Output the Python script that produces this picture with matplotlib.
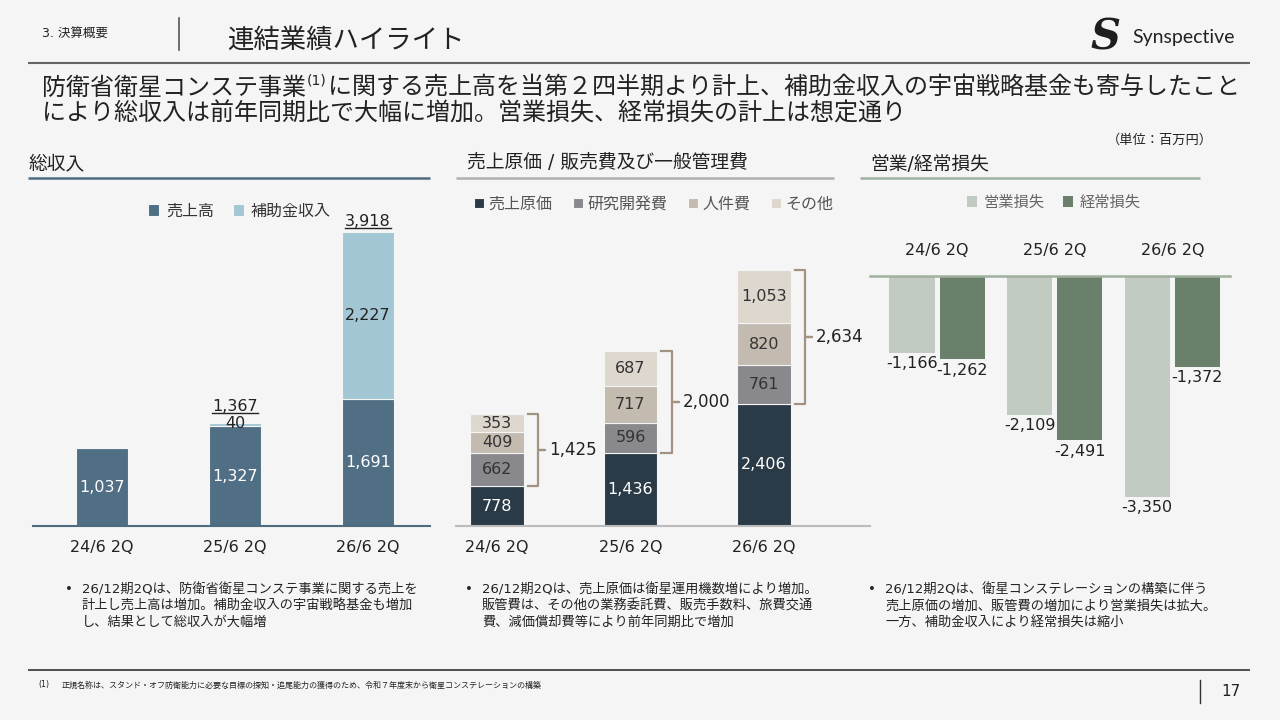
import numpy as np
import matplotlib.pyplot as plt
from matplotlib.patches import Rectangle

plt.rcParams['font.family'] = ['DejaVu Sans', 'Noto Sans CJK JP']

# データ (単位: 百万円)
periods = ['24/6 2Q', '25/6 2Q', '26/6 2Q']
sales = np.array([1037, 1327, 1691])
subsidy = np.array([0, 40, 2227])
total_revenue = [1037, 1367, 3918]

cost_of_sales = np.array([778, 1436, 2406])
rnd_cost = np.array([662, 596, 761])
personnel_cost = np.array([409, 717, 820])
other_cost = np.array([353, 687, 1053])
sga_total = [1425, 2000, 2634]

op_loss = np.array([-1166, -2109, -3350])
ord_loss = np.array([-1262, -2491, -1372])

W, H = 1280, 720
BG = '#f5f5f5'
DARK = '#222222'

fig = plt.figure(figsize=(12.8, 7.2), dpi=100, facecolor=BG)
bg = fig.add_axes([0, 0, 1, 1], facecolor='none')
bg.set_xlim(0, W)
bg.set_ylim(H, 0)
bg.axis('off')
renderer = fig.canvas.get_renderer()


def px_axes(x0, y0, x1, y1):
    return fig.add_axes([x0 / W, 1 - y1 / H, (x1 - x0) / W, (y1 - y0) / H], facecolor='none')


def hline(x0, x1, y, color, lw=1.0):
    bg.plot([x0, x1], [y, y], color=color, lw=lw, solid_capstyle='butt')


def vline(x, y0, y1, color, lw=1.0):
    bg.plot([x, x], [y0, y1], color=color, lw=lw)


# ---- ヘッダー ----
bg.text(42, 33, '3. 決算概要', fontsize=9, color=DARK, va='center')
vline(179, 18, 50, '#555555', 1.2)
bg.text(227, 41, '連結業績ハイライト', fontsize=19, color=DARK, va='center')
bg.text(1105, 38, 'S', fontsize=30, fontweight='bold', style='italic', family='DejaVu Serif',
        color='#1e1e1e', ha='center', va='center')
bg.text(1132, 37, 'Synspective', fontsize=14, family='Lato', color=DARK, va='center')
hline(28, 1250, 63, '#666666', 1.5)

# 見出し (上付き (1) 付き)
sub_fs = 17.3
t = bg.text(42, 88, '防衛省衛星コンステ事業', fontsize=sub_fs, color=DARK, va='center')
x_end = bg.transData.inverted().transform(t.get_window_extent(renderer))[1][0]
t = bg.text(x_end + 1, 81, '(1)', fontsize=10, color=DARK, va='center')
x_end = bg.transData.inverted().transform(t.get_window_extent(renderer))[1][0]
bg.text(x_end + 1, 88, 'に関する売上高を当第２四半期より計上、補助金収入の宇宙戦略基金も寄与したこと',
        fontsize=sub_fs, color=DARK, va='center')
bg.text(42, 114, 'により総収入は前年同期比で大幅に増加。営業損失、経常損失の計上は想定通り',
        fontsize=sub_fs, color=DARK, va='center')
bg.text(1213, 140, '（単位：百万円）', fontsize=9.5, color=DARK, va='center', ha='right')

# セクション見出し
bg.text(28, 164, '総収入', fontsize=13.5, color=DARK, va='center')
hline(28, 430, 178, '#4f6b80', 1.8)
bg.text(467, 163, '売上原価 / 販売費及び一般管理費', fontsize=13.5, color=DARK, va='center')
hline(456, 834, 178, '#b0b0b0', 1.8)
bg.text(870, 164, '営業/経常損失', fontsize=13.5, color=DARK, va='center')
hline(860, 1200, 178, '#9fb09f', 1.8)

x = np.arange(len(periods))
VAL_FS = 11.5

# ---- 総収入 ----
ax1 = px_axes(33, 180, 430, 526)
ax1.set_xlim(-0.519, 2.466)
ax1.set_ylim(0, 4613)
c_sales, c_sub = '#506e84', '#a3c6d4'
b1 = ax1.bar(x, sales, 0.39, color=c_sales, edgecolor=BG, lw=0.8, label='売上高')
b2 = ax1.bar(x, subsidy, 0.39, bottom=sales, color=c_sub, edgecolor=BG, lw=0.8, label='補助金収入')
for i in x:
    ax1.text(i, sales[i] / 2, f'{sales[i]:,}', color='white', fontsize=VAL_FS, ha='center', va='center')
    if subsidy[i] == 0:
        continue
    if subsidy[i] > 300:
        ax1.text(i, sales[i] + subsidy[i] / 2, f'{subsidy[i]:,}', color=DARK, fontsize=VAL_FS,
                 ha='center', va='center')
        off = 40
    else:
        ax1.text(i, total_revenue[i], f'{subsidy[i]:,}', color=DARK, fontsize=VAL_FS,
                 ha='center', va='center')
        off = 130
    tt = ax1.text(i, total_revenue[i] + off, f'{total_revenue[i]:,}', color=DARK, fontsize=VAL_FS,
                  ha='center', va='bottom')
    bb = tt.get_window_extent(renderer)
    (ux0, uy), (ux1, _) = ax1.transData.inverted().transform([(bb.x0, bb.y0 + 1), (bb.x1, bb.y1)])
    ax1.plot([ux0, ux1], [uy, uy], color=DARK, lw=1)
ax1.set_xticks(x, periods, fontsize=VAL_FS, color=DARK)
ax1.tick_params(axis='x', length=0, pad=10)
ax1.set_yticks([])
for s in ['top', 'left', 'right']:
    ax1.spines[s].set_visible(False)
ax1.spines['bottom'].set_color('#4f6b80')
ax1.spines['bottom'].set_linewidth(1.5)
ax1.legend(loc='center', bbox_to_anchor=(0.52, 0.91), ncol=2, frameon=False, fontsize=11.5,
           handlelength=0.7, handleheight=0.7, handletextpad=0.4, columnspacing=1.2,
           labelcolor='#333333')

# ---- 売上原価 / 販管費 ----
ax2 = px_axes(456, 180, 870, 526)
ax2.set_xlim(-0.307, 2.794)
ax2.set_ylim(0, 6811)
segs = [(cost_of_sales, '売上原価', '#2a3a47', 'white'),
        (rnd_cost, '研究開発費', '#88888d', '#333333'),
        (personnel_cost, '人件費', '#c3bab0', '#333333'),
        (other_cost, 'その他', '#ddd7ce', '#333333')]
bottom = np.zeros(3)
for vals, name, col, tcol in segs:
    ax2.bar(x, vals, 0.40, bottom=bottom, color=col, edgecolor=BG, lw=0.8, label=name)
    for i in x:
        ax2.text(i, bottom[i] + vals[i] / 2, f'{vals[i]:,}', color=tcol, fontsize=VAL_FS,
                 ha='center', va='center')
    bottom = bottom + vals
brace_col = '#a39382'
for i in x:
    lo, hi = cost_of_sales[i], bottom[i]
    mid = (lo + hi) / 2
    x0, x1, x2 = i + 0.23, i + 0.31, i + 0.36
    ax2.plot([x0, x1, x1, x2, x1, x1, x0], [lo, lo, mid, mid, mid, hi, hi],
             color=brace_col, lw=1.6, solid_joinstyle='round')
    ax2.text(x2 + 0.03, mid, f'{sga_total[i]:,}', color=DARK, fontsize=12, ha='left', va='center')
ax2.set_xticks(x, periods, fontsize=VAL_FS, color=DARK)
ax2.tick_params(axis='x', length=0, pad=10)
ax2.set_yticks([])
for s in ['top', 'left', 'right']:
    ax2.spines[s].set_visible(False)
ax2.spines['bottom'].set_color('#bbbbbb')
ax2.spines['bottom'].set_linewidth(1.5)
ax2.legend(loc='center', bbox_to_anchor=(0.478, 0.931), ncol=4, frameon=False, fontsize=11.5,
           handlelength=0.6, handleheight=0.6, handletextpad=0.3, columnspacing=1.3,
           labelcolor='#555555')

# ---- 営業/経常損失 ----
ax3 = px_axes(870, 276, 1230, 526)
ax3.set_xlim(-0.57, 2.49)
ax3.set_ylim(-3788, 0)
ax3.bar(x - 0.213, op_loss, 0.383, color='#c2cbc2', label='営業損失')
ax3.bar(x + 0.213, ord_loss, 0.383, color='#6b806b', label='経常損失')
for i in x:
    ax3.text(i - 0.213, op_loss[i] - 50, f'{op_loss[i]:,}', color=DARK, fontsize=VAL_FS,
             ha='center', va='top')
    ax3.text(i + 0.213, ord_loss[i] - 50, f'{ord_loss[i]:,}', color=DARK, fontsize=VAL_FS,
             ha='center', va='top')
ax3.xaxis.tick_top()
ax3.set_xticks(x, periods, fontsize=VAL_FS, color=DARK)
ax3.tick_params(axis='x', length=0, pad=13)
ax3.set_yticks([])
for s in ['bottom', 'left', 'right']:
    ax3.spines[s].set_visible(False)
ax3.spines['top'].set_color('#9fb09f')
ax3.spines['top'].set_linewidth(1.8)
ax3.legend(loc='center', bbox_to_anchor=(0.51, 1.296), ncol=2, frameon=False, fontsize=11,
           handlelength=0.7, handleheight=0.7, handletextpad=0.4, columnspacing=1.2,
           labelcolor='#666666')

# ---- コメント ----
bullets = [
    (65, ['26/12期2Qは、防衛省衛星コンステ事業に関する売上を',
          '計上し売上高は増加。補助金収入の宇宙戦略基金も増加',
          'し、結果として総収入が大幅増']),
    (465, ['26/12期2Qは、売上原価は衛星運用機数増により増加。',
           '販管費は、その他の業務委託費、販売手数料、旅費交通',
           '費、減価償却費等により前年同期比で増加']),
    (868, ['26/12期2Qは、衛星コンステレーションの構築に伴う',
           '売上原価の増加、販管費の増加により営業損失は拡大。',
           '一方、補助金収入により経常損失は縮小']),
]
for bx, lines in bullets:
    bg.text(bx, 590, '•', fontsize=9.5, color=DARK, va='center')
    for k, line in enumerate(lines):
        bg.text(bx + 17, 590 + 16 * k, line, fontsize=9.5, color=DARK, va='center')

# ---- フッター ----
hline(28, 1250, 670, '#333333', 1.2)
bg.text(38, 685, '(1)', fontsize=5.8, color=DARK, va='center')
bg.text(62, 685, '正規名称は、スタンド・オフ防衛能力に必要な目標の探知・追尾能力の獲得のため、令和７年度末から衛星コンステレーションの構築',
        fontsize=5.8, color=DARK, va='center')
vline(1200, 680, 703, '#333333', 1.0)
bg.text(1231, 692, '17', fontsize=11, color=DARK, va='center', ha='center')

fig.savefig('out.png', dpi=100, facecolor=BG)
